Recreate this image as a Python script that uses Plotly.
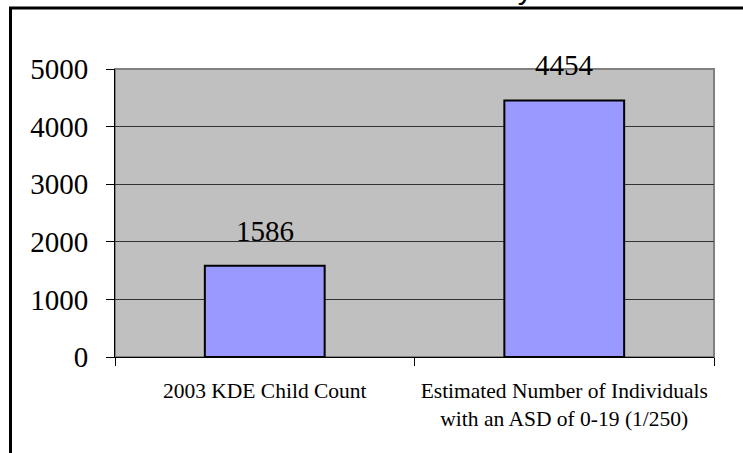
import plotly.graph_objects as go

# Chart data
categories = ["2003 KDE Child Count",
              "Estimated Number of Individuals<br>with an ASD of 0-19 (1/250)"]
values = [1586, 4454]
y_ticks = [0, 1000, 2000, 3000, 4000, 5000]
title_text = "Schools of Kentucky"

W, H = 743, 453
L, R, T, B = 115, 29, 69, 96          # margins -> plot area 115..714 x 69..357
plot_w = W - L - R
plot_h = H - T - B


def px_to_paper_x(px):
    return (px - L) / plot_w


def px_to_paper_y(py):
    return (H - B - py) / plot_h


serif = "Liberation Serif"

fig = go.Figure()
fig.add_trace(go.Bar(
    x=categories,
    y=values,
    marker=dict(color="#9999FF", line=dict(color="#000000", width=2)),
    hoverinfo="skip",
))

# value labels above the bars
for c, v in zip(categories, values):
    fig.add_annotation(x=c, y=v, text=str(v), showarrow=False,
                       yanchor="bottom", yshift=17,
                       font=dict(family=serif, size=29, color="#000000"))

# title, mostly cut off by the top of the page
fig.add_annotation(x=px_to_paper_x(397), y=px_to_paper_y(7), xref="paper", yref="paper",
                   text=title_text, showarrow=False, yanchor="bottom",
                   font=dict(family="Liberation Sans", size=30, color="#000000"))

shapes = [
    # plot-area frame (top / right edges gray)
    dict(type="rect", xref="paper", yref="paper", x0=0, y0=0, x1=1, y1=1,
         line=dict(color="#808080", width=2), layer="below"),
    # outer chart border (extends past the page edges)
    dict(type="rect", xref="paper", yref="paper",
         x0=px_to_paper_x(10.5), y0=px_to_paper_y(8), x1=px_to_paper_x(900), y1=px_to_paper_y(700),
         line=dict(color="#000000", width=3)),
]

fig.update_layout(
    width=W, height=H,
    margin=dict(l=L, r=R, t=T, b=B, pad=0),
    paper_bgcolor="#FFFFFF",
    plot_bgcolor="#C0C0C0",
    showlegend=False,
    bargap=0.6,
    shapes=shapes,
    xaxis=dict(
        type="category",
        tickson="boundaries",
        ticks="outside", ticklen=8, tickcolor="#000000", tickwidth=1,
        showline=True, linecolor="#000000", linewidth=1,
        showgrid=False,
        tickfont=dict(family=serif, size=21.5, color="#000000"),
        ticklabelstandoff=14,
    ),
    yaxis=dict(
        range=[0, 5000],
        tickvals=y_ticks,
        ticks="outside", ticklen=8, tickcolor="#000000", tickwidth=1,
        showline=True, linecolor="#000000", linewidth=1,
        showgrid=True, gridcolor="#333333", gridwidth=1,
        zeroline=False,
        tickfont=dict(family=serif, size=29, color="#000000"),
        ticklabelstandoff=12,
    ),
)

fig.write_html("out.html")
